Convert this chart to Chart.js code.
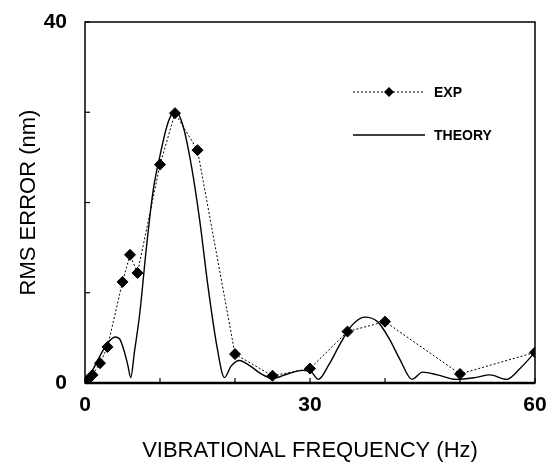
<!DOCTYPE html>
<html lang="en">
<head>
<meta charset="UTF-8">
<title>RMS Error vs Vibrational Frequency</title>
<script src="https://cdn.jsdelivr.net/npm/chart.js"></script>
<style>
  html, body { margin: 0; padding: 0; background: #fff; }
  #wrap { width: 548px; height: 464px; position: relative; }
</style>
</head>
<body>
<div id="wrap"><canvas id="rms-chart"></canvas></div>

<script>
// measured points (Hz, nm)
var expFreq = [0.3, 1, 2, 3, 5, 6, 7, 10, 12, 15, 20, 25, 30, 35, 40, 50, 60];
var expRms  = [0.3, 0.9, 2.2, 4.0, 11.2, 14.2, 12.2, 24.2, 29.9, 25.8, 3.2, 0.8, 1.6, 5.7, 6.8, 1.0, 3.4];

// theory curve
var theoryFreq = [0, 1, 2, 3, 4, 4.6, 5.2, 5.7, 6.1, 6.6, 7.3, 8.2, 9.1, 10, 10.9, 11.6, 12.2, 13.1, 14.2, 15.3,
                  16.4, 17.6, 18.6, 19.5, 20.6, 22, 23.5, 25, 27, 29, 30.2, 31.1, 32.5, 34, 35.5, 37.3, 39, 40.5,
                  42, 43.6, 45, 47, 49.5, 52, 54, 56.2, 58, 60];
var theoryRms  = [0, 1.4, 3.0, 4.4, 5.1, 4.9, 3.6, 2.0, 0.6, 3.5, 7.7, 15.1, 21.4, 25.2, 28.4, 29.8, 30.0, 28.4, 24.0, 18.0,
                  10.7, 4.0, 0.6, 1.9, 2.5, 1.9, 1.0, 0.5, 1.0, 1.4, 1.2, 0.4, 2.0, 4.3, 6.3, 7.3, 6.8, 5.0,
                  2.6, 0.4, 1.2, 0.9, 0.4, 0.6, 0.9, 0.4, 1.6, 3.4];

var xTickLabels = [0, 30, 60];
var yTickLabels = [0, 40];

function toPoints(xs, ys) {
    return xs.map(function (x, i) { return { x: x, y: ys[i] }; });
}

// fixed axis boxes, no label overflow padding
function fixBox(s) {
    if (s.isHorizontal()) s.height = 81; else s.width = 85;
    s.paddingTop = 0; s.paddingBottom = 0; s.paddingLeft = 0; s.paddingRight = 0;
}

// frame, inward ticks and the legend inside the plot
var framePlugin = {
    id: 'frame',
    afterDraw: function (chart) {
        var ctx = chart.ctx;
        var a = chart.chartArea;
        var xs = chart.scales.x, ys = chart.scales.y;
        ctx.save();
        ctx.strokeStyle = '#000';
        ctx.lineWidth = 1.5;
        ctx.strokeRect(a.left, a.top, a.right - a.left, a.bottom - a.top);
        ctx.lineWidth = 2.5;
        ctx.beginPath();
        ctx.moveTo(a.left, a.bottom);
        ctx.lineTo(a.right, a.bottom);
        ctx.stroke();

        ctx.lineWidth = 1.2;
        xs.ticks.forEach(function (t) {
            var px = xs.getPixelForValue(t.value);
            ctx.beginPath();
            ctx.moveTo(px, a.bottom);
            ctx.lineTo(px, a.bottom - 5);
            ctx.stroke();
        });
        ys.ticks.forEach(function (t) {
            var py = ys.getPixelForValue(t.value);
            ctx.beginPath();
            ctx.moveTo(a.left, py);
            ctx.lineTo(a.left + 5, py);
            ctx.stroke();
        });

        // legend
        var lx = 353, lw = 72;
        ctx.lineWidth = 1;
        ctx.setLineDash([2, 2]);
        ctx.beginPath();
        ctx.moveTo(lx, 92);
        ctx.lineTo(lx + lw, 92);
        ctx.stroke();
        ctx.setLineDash([]);
        ctx.fillStyle = '#000';
        ctx.beginPath();
        ctx.moveTo(389, 87);
        ctx.lineTo(394, 92);
        ctx.lineTo(389, 97);
        ctx.lineTo(384, 92);
        ctx.closePath();
        ctx.fill();

        ctx.lineWidth = 1.3;
        ctx.beginPath();
        ctx.moveTo(lx, 135);
        ctx.lineTo(lx + lw, 135);
        ctx.stroke();

        ctx.font = 'bold 14px "Liberation Sans", Arial, sans-serif';
        ctx.textBaseline = 'middle';
        ctx.textAlign = 'left';
        ctx.fillText('EXP', 434, 93);
        ctx.fillText('THEORY', 434, 136);
        ctx.restore();
    }
};

var ctx = document.getElementById('rms-chart').getContext('2d');
var chart = new Chart(ctx, {
    type: 'scatter',
    data: {
        datasets: [
            {
                label: 'THEORY',
                data: toPoints(theoryFreq, theoryRms),
                showLine: true,
                borderColor: '#000',
                borderWidth: 1.4,
                pointRadius: 0,
                cubicInterpolationMode: 'monotone',
                fill: false
            },
            {
                label: 'EXP',
                data: toPoints(expFreq, expRms),
                showLine: true,
                borderColor: '#000',
                borderWidth: 1,
                borderDash: [2, 2],
                tension: 0,
                pointStyle: 'rectRot',
                pointRadius: 5.5,
                pointBackgroundColor: '#000',
                pointBorderColor: '#000',
                fill: false
            }
        ]
    },
    options: {
        responsive: true,
        maintainAspectRatio: false,
        animation: false,
        layout: { padding: { left: 0, right: 13, top: 22, bottom: 0 } },
        plugins: {
            legend: { display: false },
            tooltip: { enabled: false }
        },
        scales: {
            x: {
                type: 'linear',
                min: 0,
                max: 60,
                afterFit: fixBox,
                grid: { display: false, drawTicks: false },
                border: { display: false },
                ticks: {
                    stepSize: 10,
                    padding: 10,
                    maxRotation: 0,
                    color: '#000',
                    font: { family: '"Liberation Sans", Arial, sans-serif', size: 21, weight: 'bold' },
                    callback: function (v) { return xTickLabels.indexOf(v) >= 0 ? String(v) : ''; }
                },
                title: {
                    display: true,
                    text: 'VIBRATIONAL FREQUENCY (Hz)',
                    color: '#000',
                    padding: { top: 0, bottom: 0 },
                    font: { family: '"Liberation Sans", Arial, sans-serif', size: 22 }
                }
            },
            y: {
                min: 0,
                max: 40,
                afterFit: fixBox,
                grid: { display: false, drawTicks: false },
                border: { display: false },
                ticks: {
                    stepSize: 10,
                    padding: 18,
                    color: '#000',
                    font: { family: '"Liberation Sans", Arial, sans-serif', size: 21, weight: 'bold' },
                    callback: function (v) { return yTickLabels.indexOf(v) >= 0 ? String(v) : ''; }
                },
                title: {
                    display: true,
                    text: 'RMS ERROR (nm)',
                    color: '#000',
                    padding: { top: 16, bottom: 0 },
                    font: { family: '"Liberation Sans", Arial, sans-serif', size: 22 }
                }
            }
        }
    },
    plugins: [framePlugin]
});
</script>
</body>
</html>
